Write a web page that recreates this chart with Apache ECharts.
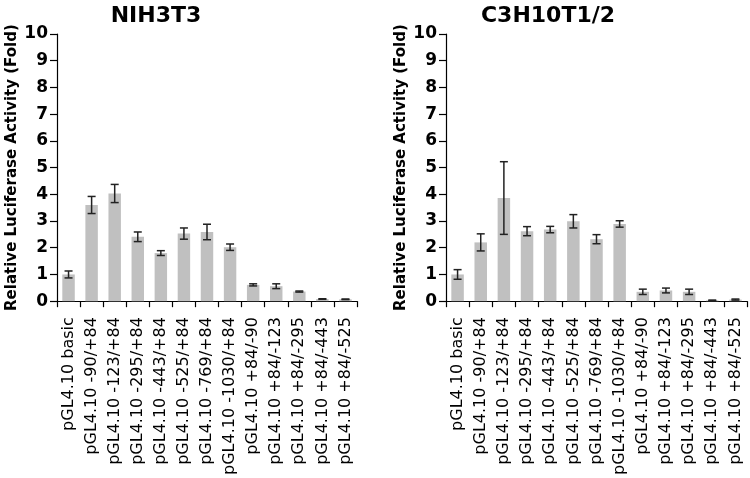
<!DOCTYPE html>
<html>
<head>
<meta charset="utf-8">
<script src="https://cdn.jsdelivr.net/npm/echarts@6/dist/echarts.min.js"></script>
<style>
html,body{margin:0;padding:0;background:#fff;}
#chart{width:750px;height:478px;}
</style>
</head>
<body>
<div id="chart"></div>
<script>
var categories = ['pGL4.10 basic','pGL4.10 -90/+84','pGL4.10 -123/+84','pGL4.10 -295/+84','pGL4.10 -443/+84','pGL4.10 -525/+84','pGL4.10 -769/+84','pGL4.10 -1030/+84','pGL4.10 +84/-90','pGL4.10 +84/-123','pGL4.10 +84/-295','pGL4.10 +84/-443','pGL4.10 +84/-525'];
var panelTitles = ['NIH3T3', 'C3H10T1/2'];
var yAxisName = 'Relative Luciferase Activity (Fold)';
var nihValues = [1.0, 3.6, 4.03, 2.41, 1.8, 2.53, 2.59, 2.02, 0.61, 0.56, 0.36, 0.08, 0.07];
var nihErrors = [0.13, 0.32, 0.34, 0.18, 0.09, 0.21, 0.29, 0.12, 0.04, 0.09, 0.02, 0.01, 0.01];
var c3hValues = [1.0, 2.2, 3.86, 2.62, 2.68, 2.99, 2.32, 2.89, 0.35, 0.40, 0.35, 0.03, 0.06];
var c3hErrors = [0.18, 0.32, 1.36, 0.17, 0.12, 0.25, 0.17, 0.12, 0.10, 0.09, 0.10, 0.01, 0.02];

var FONT = 'DejaVu Sans';
var chart = echarts.init(document.getElementById('chart'), null, {renderer: 'canvas'});

function errData(vals, errs) {
  return vals.map(function (v, i) { return [i, v, errs[i]]; });
}
function renderErr(params, api) {
  var i = api.value(0), v = api.value(1), e = api.value(2);
  var top = api.coord([i, v + e]);
  var bot = api.coord([i, v - e]);
  var hw = 4;
  var st = {stroke: '#222', lineWidth: 1.5};
  return {type: 'group', children: [
    {type: 'line', shape: {x1: top[0], y1: top[1], x2: bot[0], y2: bot[1]}, style: st},
    {type: 'line', shape: {x1: top[0] - hw, y1: top[1], x2: top[0] + hw, y2: top[1]}, style: st},
    {type: 'line', shape: {x1: bot[0] - hw, y1: bot[1], x2: bot[0] + hw, y2: bot[1]}, style: st}
  ]};
}
function xAxis(idx) {
  return {
    type: 'category', gridIndex: idx, data: categories, boundaryGap: true,
    axisLine: {lineStyle: {color: '#000', width: 1.2}},
    axisTick: {show: true, inside: false, length: 6, alignWithLabel: false, interval: 0, lineStyle: {color: '#000', width: 1.2}},
    axisLabel: {interval: 0, rotate: 90, margin: 16, color: '#000', fontFamily: FONT, fontSize: 16}
  };
}
function yAxis(idx) {
  return {
    type: 'value', gridIndex: idx, min: 0, max: 10, interval: 1,
    name: yAxisName, nameLocation: 'middle', nameRotate: 90, nameGap: 37,
    nameTextStyle: {color: '#000', fontFamily: FONT, fontWeight: 'bold', fontSize: 15},
    splitLine: {show: false},
    axisLine: {show: true, lineStyle: {color: '#000', width: 1.2}},
    axisTick: {show: true, inside: false, length: 7, lineStyle: {color: '#000', width: 1.2}},
    axisLabel: {margin: 9, color: '#000', fontFamily: FONT, fontWeight: 'bold', fontSize: 17}
  };
}
var option = {
  animation: false,
  backgroundColor: '#fff',
  title: [
    {text: panelTitles[0], left: 151, top: 0, textAlign: 'center', textStyle: {fontFamily: FONT, fontWeight: 'bold', fontSize: 22, color: '#000'}},
    {text: panelTitles[1], left: 543, top: 0, textAlign: 'center', textStyle: {fontFamily: FONT, fontWeight: 'bold', fontSize: 22, color: '#000'}}
  ],
  grid: [
    {left: 57, top: 34, width: 300, height: 268},
    {left: 446, top: 34, width: 301, height: 268}
  ],
  xAxis: [xAxis(0), xAxis(1)],
  yAxis: [yAxis(0), yAxis(1)],
  series: [
    {type: 'bar', xAxisIndex: 0, yAxisIndex: 0, data: nihValues, barCategoryGap: '46%', itemStyle: {color: '#c0c0c0'}},
    {type: 'custom', xAxisIndex: 0, yAxisIndex: 0, data: errData(nihValues, nihErrors), renderItem: renderErr, z: 5},
    {type: 'bar', xAxisIndex: 1, yAxisIndex: 1, data: c3hValues, barCategoryGap: '46%', itemStyle: {color: '#c0c0c0'}},
    {type: 'custom', xAxisIndex: 1, yAxisIndex: 1, data: errData(c3hValues, c3hErrors), renderItem: renderErr, z: 5}
  ]
};
chart.setOption(option);
</script>
</body>
</html>
